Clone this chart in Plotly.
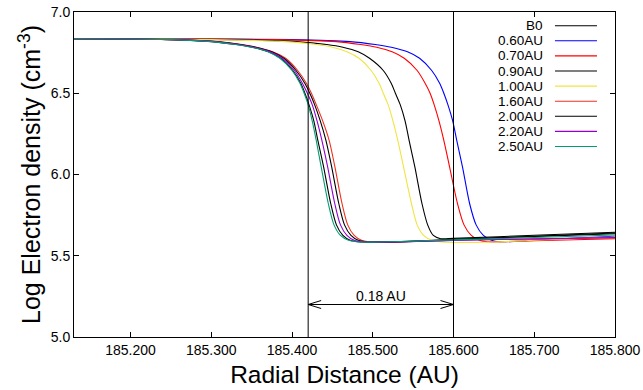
import plotly.graph_objects as go

# ---------------- data ----------------
names = ["B0", "0.60AU", "0.70AU", "0.90AU", "1.00AU", "1.60AU", "2.00AU", "2.20AU", "2.50AU"]
colors = ["#000000", "#0000ff", "#ff0000", "#000000", "#f0e442", "#f03020", "#000000", "#9400d3", "#009e73"]

x_b0 = [185.130, 185.200, 185.251, 185.301, 185.331, 185.351, 185.371, 185.386, 185.401, 185.411, 185.416, 185.421, 185.427,
        185.432, 185.439, 185.448, 185.455, 185.463, 185.472, 185.482, 185.502, 185.552, 185.600, 185.700, 185.800]
y_b0 = [6.835, 6.834, 6.830, 6.818, 6.800, 6.783, 6.755, 6.715, 6.640, 6.560, 6.500, 6.430, 6.330,
        6.210, 6.050, 5.820, 5.690, 5.625, 5.595, 5.586, 5.584, 5.590, 5.600, 5.618, 5.635]

x_060 = [185.130, 185.260, 185.400, 185.472, 185.503, 185.523, 185.543, 185.558, 185.573, 185.583, 185.588, 185.593,
         185.599, 185.604, 185.611, 185.620, 185.628, 185.637, 185.647, 185.657, 185.700, 185.800]
y_060 = [6.835, 6.834, 6.830, 6.818, 6.800, 6.783, 6.755, 6.715, 6.640, 6.560, 6.500, 6.430,
         6.330, 6.210, 6.050, 5.820, 5.690, 5.625, 5.595, 5.586, 5.596, 5.620]

x_070 = [185.130, 185.250, 185.380, 185.455, 185.485, 185.505, 185.524, 185.539, 185.555, 185.565, 185.571, 185.576,
         185.582, 185.588, 185.595, 185.605, 185.613, 185.622, 185.632, 185.642, 185.700, 185.800]
y_070 = [6.835, 6.834, 6.830, 6.818, 6.800, 6.783, 6.755, 6.715, 6.640, 6.560, 6.500, 6.430,
         6.330, 6.210, 6.050, 5.820, 5.690, 5.625, 5.595, 5.586, 5.592, 5.605]

x_090 = [185.130, 185.200, 185.320, 185.405, 185.443, 185.463, 185.482, 185.496, 185.513, 185.523, 185.528, 185.534,
         185.540, 185.545, 185.552, 185.561, 185.568, 185.575, 185.584, 185.600, 185.700, 185.800]
y_090 = [6.835, 6.834, 6.830, 6.818, 6.800, 6.783, 6.755, 6.715, 6.640, 6.560, 6.500, 6.430,
         6.330, 6.210, 6.050, 5.820, 5.690, 5.625, 5.605, 5.607, 5.626, 5.645]

x_100 = [185.130, 185.200, 185.300, 185.390, 185.430, 185.450, 185.468, 185.483, 185.498, 185.508, 185.513, 185.519,
         185.525, 185.531, 185.538, 185.548, 185.555, 185.563, 185.573, 185.583, 185.600, 185.650, 185.700, 185.800]
y_100 = [6.835, 6.834, 6.830, 6.818, 6.800, 6.783, 6.755, 6.715, 6.640, 6.560, 6.500, 6.430,
         6.330, 6.210, 6.050, 5.820, 5.690, 5.625, 5.595, 5.586, 5.582, 5.585, 5.595, 5.615]

x_160 = [185.130, 185.200, 185.255, 185.308, 185.338, 185.356, 185.376, 185.392, 185.407, 185.418, 185.424, 185.430, 185.438,
         185.446, 185.453, 185.462, 185.469, 185.477, 185.486, 185.495, 185.515, 185.560, 185.600, 185.700, 185.800]
y_160 = [6.835, 6.834, 6.830, 6.818, 6.800, 6.783, 6.755, 6.715, 6.640, 6.560, 6.500, 6.430, 6.330,
         6.210, 6.050, 5.820, 5.690, 5.625, 5.595, 5.586, 5.584, 5.590, 5.595, 5.603, 5.610]

x_200 = [185.130, 185.200, 185.254, 185.306, 185.336, 185.355, 185.375, 185.390, 185.405, 185.416, 185.422, 185.428, 185.435,
         185.442, 185.449, 185.458, 185.465, 185.473, 185.482, 185.491, 185.511, 185.558, 185.600, 185.700, 185.800]
y_200 = [6.835, 6.834, 6.830, 6.818, 6.800, 6.783, 6.755, 6.715, 6.640, 6.560, 6.500, 6.430, 6.330,
         6.210, 6.050, 5.820, 5.690, 5.625, 5.595, 5.586, 5.584, 5.590, 5.600, 5.620, 5.640]

x_220 = [185.130, 185.200, 185.252, 185.304, 185.334, 185.353, 185.373, 185.388, 185.403, 185.413, 185.419, 185.425, 185.431,
         185.437, 185.444, 185.453, 185.460, 185.468, 185.477, 185.487, 185.507, 185.555, 185.600, 185.700, 185.800]
y_220 = [6.835, 6.834, 6.830, 6.818, 6.800, 6.783, 6.755, 6.715, 6.640, 6.560, 6.500, 6.430, 6.330,
         6.210, 6.050, 5.820, 5.690, 5.625, 5.595, 5.586, 5.584, 5.588, 5.594, 5.604, 5.612]

x_250 = [185.130, 185.200, 185.250, 185.300, 185.330, 185.350, 185.370, 185.385, 185.400, 185.410, 185.415, 185.420, 185.425,
         185.430, 185.436, 185.445, 185.452, 185.460, 185.470, 185.480, 185.500, 185.550, 185.600, 185.700, 185.800]
y_250 = [6.835, 6.834, 6.830, 6.818, 6.800, 6.783, 6.755, 6.715, 6.640, 6.560, 6.500, 6.430, 6.330,
         6.210, 6.050, 5.820, 5.690, 5.625, 5.595, 5.586, 5.584, 5.590, 5.598, 5.612, 5.628]

xs = [x_b0, x_060, x_070, x_090, x_100, x_160, x_200, x_220, x_250]
ys = [y_b0, y_060, y_070, y_090, y_100, y_160, y_200, y_220, y_250]

x_ticks = [185.2, 185.3, 185.4, 185.5, 185.6, 185.7, 185.8]
x_tick_labels = ["185.200", "185.300", "185.400", "185.500", "185.600", "185.700", "185.800"]
y_ticks = [5.0, 5.5, 6.0, 6.5, 7.0]
y_tick_labels = ["5.0", "5.5", "6.0", "6.5", "7.0"]

x_range = [185.13, 185.80]
y_range = [5.0, 7.0]

marker_lines = [185.42, 185.60]   # vertical reference lines
arrow_y = 5.2
arrow_label = "0.18 AU"

FONT = "Liberation Sans, Arial, Helvetica, sans-serif"

# ---------------- figure ----------------
fig = go.Figure()
for n, c, x, y in zip(names, colors, xs, ys):
    fig.add_trace(go.Scatter(x=x, y=y, name=n, mode="lines",
                             line=dict(color=c, width=1.1, shape="spline", smoothing=0.8),
                             showlegend=False, hoverinfo="skip"))

shapes = []
for xv in marker_lines:
    shapes.append(dict(type="line", xref="x", yref="paper", x0=xv, x1=xv, y0=0, y1=1,
                       line=dict(color="black", width=1)))
# double arrow
shapes.append(dict(type="line", xref="x", yref="y", x0=marker_lines[0], x1=marker_lines[1],
                   y0=arrow_y, y1=arrow_y, line=dict(color="black", width=1)))
shapes.append(dict(type="path", xref="x", yref="y", xsizemode="pixel", ysizemode="pixel",
                   xanchor=marker_lines[0], yanchor=arrow_y, path="M 13,4 L 0,0 L 13,-4",
                   line=dict(color="black", width=1)))
shapes.append(dict(type="path", xref="x", yref="y", xsizemode="pixel", ysizemode="pixel",
                   xanchor=marker_lines[1], yanchor=arrow_y, path="M -13,4 L 0,0 L -13,-4",
                   line=dict(color="black", width=1)))

annotations = [dict(x=(marker_lines[0] + marker_lines[1]) / 2, y=arrow_y, xref="x", yref="y",
                    text=arrow_label, showarrow=False, yshift=9,
                    font=dict(family=FONT, size=14, color="black"))]

# custom legend: text on the left, line sample on the right (gnuplot style)
leg_text_x = 0.8706
leg_line_x0, leg_line_x1 = 0.889, 0.9667
leg_top, leg_step = 0.9578, 0.04646
for i, (n, c) in enumerate(zip(names, colors)):
    yy = leg_top - i * leg_step
    annotations.append(dict(x=leg_text_x, y=yy, xref="paper", yref="paper", text=n,
                            showarrow=False, xanchor="right", yanchor="middle",
                            font=dict(family=FONT, size=13.5, color="black")))
    shapes.append(dict(type="line", xref="paper", yref="paper", x0=leg_line_x0, x1=leg_line_x1,
                       y0=yy, y1=yy, line=dict(color=c, width=1.1)))

fig.update_layout(
    template="none",
    width=643, height=390,
    margin=dict(l=74, r=28, t=12, b=53, autoexpand=False),
    plot_bgcolor="white", paper_bgcolor="white",
    font=dict(family=FONT, color="black"),
    showlegend=False,
    shapes=shapes, annotations=annotations,
    xaxis=dict(range=x_range, tickvals=x_ticks, ticktext=x_tick_labels,
               ticks="inside", ticklen=5, tickcolor="black", automargin=False,
               showline=True, linecolor="black", linewidth=1, mirror="ticks",
               showgrid=False, zeroline=False,
               tickfont=dict(family=FONT, size=14),
               title=dict(text="Radial Distance (AU)", font=dict(family=FONT, size=24.5), standoff=9)),
    yaxis=dict(range=y_range, tickvals=y_ticks, ticktext=y_tick_labels,
               ticks="inside", ticklen=5, tickcolor="black", automargin=False,
               showline=True, linecolor="black", linewidth=1, mirror="ticks",
               showgrid=False, zeroline=False,
               tickfont=dict(family=FONT, size=14),
               title=dict(text="Log Electron density (cm<sup>-3</sup>)", font=dict(family=FONT, size=25), standoff=2)),
)

fig.write_html("out.html", config={"displayModeBar": False, "staticPlot": True},
               post_script="document.body.style.margin='0';document.body.style.overflow='hidden';")
